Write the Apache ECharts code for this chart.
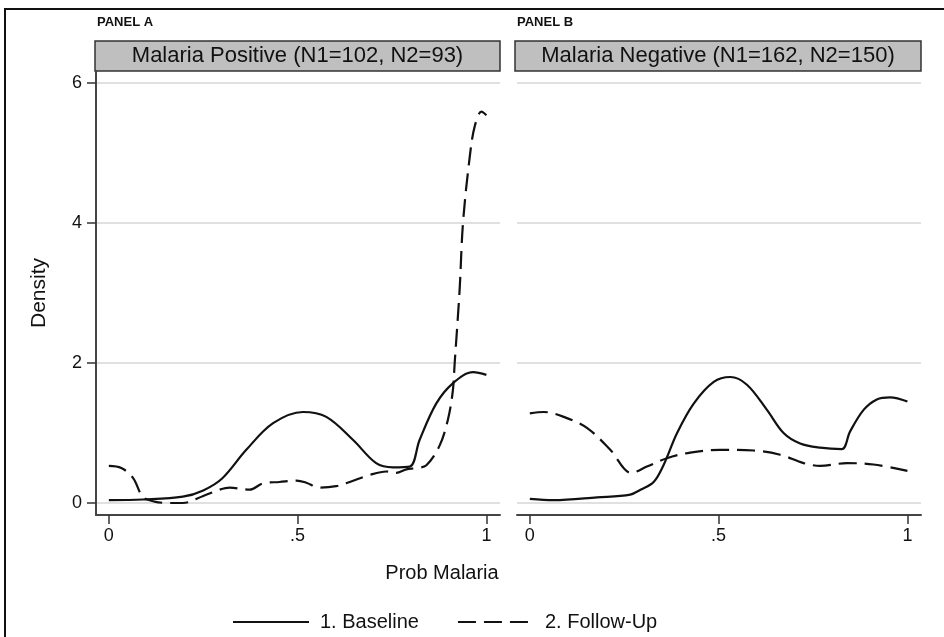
<!DOCTYPE html>
<html>
<head>
<meta charset="utf-8">
<script src="https://cdn.jsdelivr.net/npm/echarts@6/dist/echarts.min.js"></script>
<style>
  html, body { margin: 0; padding: 0; background: #fff; }
  #chart { width: 944px; height: 637px; }
</style>
</head>
<body>
<div id="chart"></div>
<script>
// density estimates: [prob, density]
const posBaseline = [
  [0, 0.04], [0.09, 0.05], [0.196, 0.09], [0.25, 0.18], [0.30, 0.35], [0.364, 0.76],
  [0.435, 1.14], [0.514, 1.30], [0.576, 1.23], [0.647, 0.9], [0.708, 0.57],
  [0.753, 0.51], [0.797, 0.52], [0.823, 0.9], [0.867, 1.42], [0.911, 1.71],
  [0.965, 1.87], [1.0, 1.83]
]
const posFollowUp = [
  [0, 0.53], [0.033, 0.50], [0.064, 0.36], [0.09, 0.09], [0.121, 0.02], [0.16, 0.0],
  [0.196, 0.0], [0.25, 0.10], [0.293, 0.19], [0.32, 0.22], [0.373, 0.19],
  [0.408, 0.28], [0.452, 0.30], [0.497, 0.32], [0.523, 0.29], [0.558, 0.22],
  [0.602, 0.24], [0.638, 0.30], [0.691, 0.40], [0.735, 0.45], [0.761, 0.43],
  [0.788, 0.48], [0.815, 0.50], [0.841, 0.54], [0.876, 0.82], [0.898, 1.19],
  [0.911, 1.6], [0.916, 2.0], [0.929, 3.04], [0.938, 4.0], [0.956, 4.95],
  [0.969, 5.38], [0.987, 5.59], [1.0, 5.54]
]
const negBaseline = [
  [0, 0.06], [0.063, 0.04], [0.178, 0.08], [0.266, 0.12], [0.293, 0.19], [0.328, 0.30],
  [0.354, 0.54], [0.39, 1.0], [0.434, 1.42], [0.487, 1.73], [0.531, 1.80],
  [0.575, 1.69], [0.628, 1.33], [0.672, 1.0], [0.716, 0.85], [0.769, 0.79],
  [0.826, 0.77], [0.848, 1.02], [0.884, 1.33], [0.919, 1.48], [0.954, 1.51], [1.0, 1.45]
]
const negFollowUp = [
  [0, 1.28], [0.037, 1.30], [0.09, 1.23], [0.152, 1.07], [0.213, 0.76], [0.269, 0.43],
  [0.31, 0.52], [0.363, 0.64], [0.425, 0.72], [0.504, 0.76], [0.593, 0.75],
  [0.663, 0.69], [0.725, 0.57], [0.769, 0.53], [0.84, 0.57], [0.91, 0.55], [1.0, 0.46]
]

const xTicks = [0, 0.5, 1]
const xTickLabels = ['0', '.5', '1']
const yTicks = [0, 2, 4, 6]
const seriesNames = ['1. Baseline', '2. Follow-Up']
const panelTitles = ['Malaria Positive (N1=102, N2=93)', 'Malaria Negative (N1=162, N2=150)']
const panelLabels = ['PANEL A', 'PANEL B']

const FONT = '"Liberation Sans", Arial, Helvetica, sans-serif'
const DASH = [18, 8]

var chart = echarts.init(document.getElementById('chart'))

function xAxisFor(gridIndex) {
  return {
    type: 'value',
    gridIndex: gridIndex,
    min: -0.034,
    max: 1.036,
    axisLine: { show: true, onZero: false, lineStyle: { color: '#444', width: 2 } },
    axisTick: {
      show: true,
      customValues: xTicks,
      length: 9,
      lineStyle: { color: '#333', width: 1.5 }
    },
    axisLabel: {
      customValues: xTicks,
      margin: 12,
      color: '#111',
      fontSize: 18,
      fontFamily: FONT,
      formatter: function (v) {
        var i = xTicks.indexOf(v)
        return i >= 0 ? xTickLabels[i] : ''
      }
    },
    splitLine: { show: false }
  }
}

function yAxisFor(gridIndex, visible) {
  return {
    type: 'value',
    gridIndex: gridIndex,
    min: -0.1714,
    max: 6.1714,
    name: visible ? 'Density' : '',
    nameLocation: 'middle',
    nameGap: 46,
    nameTextStyle: { color: '#111', fontSize: 21, fontFamily: FONT },
    axisLine: { show: visible, onZero: false, lineStyle: { color: '#444', width: 2 } },
    axisTick: {
      show: visible,
      customValues: yTicks,
      length: 9,
      lineStyle: { color: '#333', width: 1.5 }
    },
    axisLabel: {
      show: visible,
      customValues: yTicks,
      margin: 14,
      color: '#111',
      fontSize: 18,
      fontFamily: FONT
    },
    splitLine: { show: true, lineStyle: { color: '#d6d6d6', width: 1.5 } }
  }
}

function lineSeries(name, data, gridIndex, dashed) {
  return {
    name: name,
    type: 'line',
    xAxisIndex: gridIndex,
    yAxisIndex: gridIndex,
    data: data,
    smooth: 0.35,
    symbol: 'none',
    lineStyle: { color: '#111', width: 2.2, type: dashed ? DASH : 'solid' },
    itemStyle: { color: '#111' }
  }
}

function header(i, left, right) {
  return [
    {
      type: 'rect',
      shape: { x: left, y: 41, width: right - left, height: 30 },
      style: { fill: '#bfbfbf', stroke: '#333', lineWidth: 1.5 }
    },
    {
      type: 'text',
      x: (left + right) / 2,
      y: 56,
      style: {
        text: panelTitles[i],
        fill: '#111',
        font: '22px ' + FONT,
        align: 'center',
        verticalAlign: 'middle'
      }
    },
    {
      type: 'text',
      x: left + 2,
      y: 22,
      style: {
        text: panelLabels[i],
        fill: '#111',
        font: 'bold 13px ' + FONT,
        align: 'left',
        verticalAlign: 'middle'
      }
    }
  ]
}

var option = {
  backgroundColor: '#fff',
  animation: false,
  grid: [
    { left: 96, width: 404, top: 71, bottom: 122 },
    { left: 517, width: 404, top: 71, bottom: 122 }
  ],
  xAxis: [xAxisFor(0), xAxisFor(1)],
  yAxis: [yAxisFor(0, true), yAxisFor(1, false)],
  legend: {
    data: seriesNames,
    left: 227,
    top: 607,
    itemWidth: 76,
    itemHeight: 14,
    itemGap: 38,
    itemStyle: { opacity: 0 },
    textStyle: { color: '#111', fontSize: 20, fontFamily: FONT, padding: [0, 0, 0, 6] }
  },
  graphic: [
    {
      type: 'rect',
      shape: { x: 5, y: 9, width: 960, height: 660 },
      style: { fill: 'none', stroke: '#111', lineWidth: 2 },
      silent: true
    },
    {
      type: 'text',
      x: 442,
      y: 573,
      style: {
        text: 'Prob Malaria',
        fill: '#111',
        font: '20px ' + FONT,
        align: 'center',
        verticalAlign: 'middle'
      }
    }
  ].concat(header(0, 95, 500), header(1, 515, 921)),
  series: [
    lineSeries(seriesNames[0], posBaseline, 0, false),
    lineSeries(seriesNames[1], posFollowUp, 0, true),
    lineSeries(seriesNames[0], negBaseline, 1, false),
    lineSeries(seriesNames[1], negFollowUp, 1, true)
  ]
}

chart.setOption(option)
</script>
</body>
</html>
